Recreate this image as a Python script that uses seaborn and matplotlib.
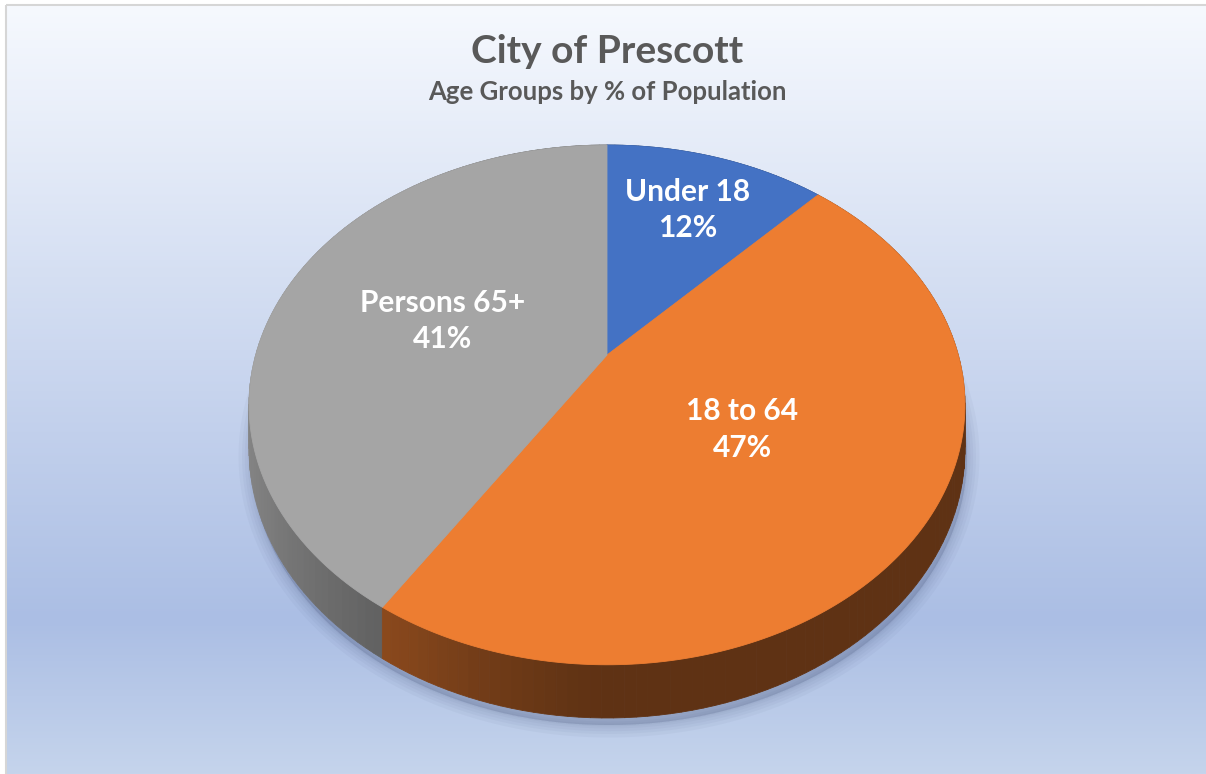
import numpy as np
import matplotlib
matplotlib.use('Agg')
import matplotlib.pyplot as plt
import seaborn as sns
from matplotlib.patches import Polygon, Rectangle
from matplotlib.colors import to_rgb

# data
groups = ['Under 18', '18 to 64', 'Persons 65+']
shares = [12, 47, 41]
colors = ['#4472C4', '#ED7D31', '#A5A5A5']
title = 'City of Prescott'
subtitle = 'Age Groups by % of Population'

sns.set_theme(style='white')
plt.rcParams['font.family'] = ['Lato', 'DejaVu Sans']

# pie geometry (pixels), perspective tilt
CX, CY = 607, 355
RX, RY = 351.3, 250.3
PERSP = 0.192
DEPTH = 43
label_r = [0.70, 0.46, 0.50]


def project(theta, r=1.0, drop=0.0):
    # theta in degrees, clockwise from 12 o'clock
    t = np.radians(theta)
    u = r * np.sin(t)
    w = r * np.cos(t)
    d = 1 + PERSP * w
    return CX + RX * u / d, CY - RY * w / d + drop / d


def side_shade(theta):
    s = -np.sin(np.radians(theta))
    return 0.40 + 0.42 * max(0.0, s) ** 1.3


fig = plt.figure(figsize=(12.06, 7.74), dpi=100)
ax = fig.add_axes([0, 0, 1, 1])
ax.set_xlim(0, 1206)
ax.set_ylim(774, 0)
ax.axis('off')

# background gradient
ys = np.linspace(6, 774, 400)
stops_y = [6, 620, 774]
stops_c = np.array([[246, 249, 254], [171, 190, 228], [197, 212, 236]]) / 255
grad = np.stack([np.interp(ys, stops_y, stops_c[:, k]) for k in range(3)], axis=1)
ax.imshow(grad[:, None, :], extent=[6, 1206, 774, 6], aspect='auto', zorder=0)
ax.add_patch(Rectangle((5.5, 4.5), 1210, 800, fill=False, edgecolor='#d6d6d6', lw=1.5, zorder=1))

# soft shadow under the disc
th = np.linspace(0, 360, 361)
bx, by = project(th, 1.0, DEPTH)
shadow_pts = np.column_stack([bx + 2, by + 7])
for lw in [18, 13, 9, 5, 2]:
    ax.add_patch(Polygon(shadow_pts, closed=True, facecolor=(0.25, 0.30, 0.45),
                         edgecolor=(0.25, 0.30, 0.45), lw=lw, alpha=0.045,
                         joinstyle='round', zorder=2))

# wedge angles from the data
total = sum(shares)
bounds = np.concatenate([[0], np.cumsum(shares) / total * 360])

# rim (side) segments, painted far to near
segs = []
for i in range(len(shares)):
    a0, a1 = bounds[i], bounds[i + 1]
    n = max(4, int((a1 - a0) / 1.5))
    tt = np.linspace(a0, a1, n + 1)
    base = np.array(to_rgb(colors[i]))
    for j in range(n):
        ta, tb = tt[j], tt[j + 1]
        xa, ya = project(ta)
        xb, yb = project(tb)
        xa2, ya2 = project(ta, 1.0, DEPTH)
        xb2, yb2 = project(tb, 1.0, DEPTH)
        tm = 0.5 * (ta + tb)
        col = base * side_shade(tm)
        segs.append((np.cos(np.radians(tm)), [(xa, ya), (xb, yb), (xb2, yb2), (xa2, ya2)], col))
segs.sort(key=lambda s: -s[0])
for _, pts, col in segs:
    ax.add_patch(Polygon(pts, closed=True, facecolor=col, edgecolor=col, lw=0.6, zorder=3))

# top faces
for i in range(len(shares)):
    tt = np.linspace(bounds[i], bounds[i + 1], 200)
    px, py = project(tt)
    pts = np.vstack([[CX, CY], np.column_stack([px, py])])
    ax.add_patch(Polygon(pts, closed=True, facecolor=colors[i], edgecolor=colors[i],
                         lw=0.6, zorder=4))

# data labels
for i, (g, s) in enumerate(zip(groups, shares)):
    mid = 0.5 * (bounds[i] + bounds[i + 1])
    lx, ly = project(mid, label_r[i])
    ax.text(lx, ly, f'{g}\n{s}%', ha='center', va='center', color='white',
            fontsize=21.5, fontweight='bold', linespacing=1.37, zorder=5)

# titles
ax.text(607, 63, title, ha='center', va='baseline', color='#595959',
        fontsize=28, fontweight='bold', zorder=5)
ax.text(607, 100, subtitle, ha='center', va='baseline', color='#595959',
        fontsize=18.5, fontweight='bold', zorder=5)

fig.savefig('out.png', dpi=100)
